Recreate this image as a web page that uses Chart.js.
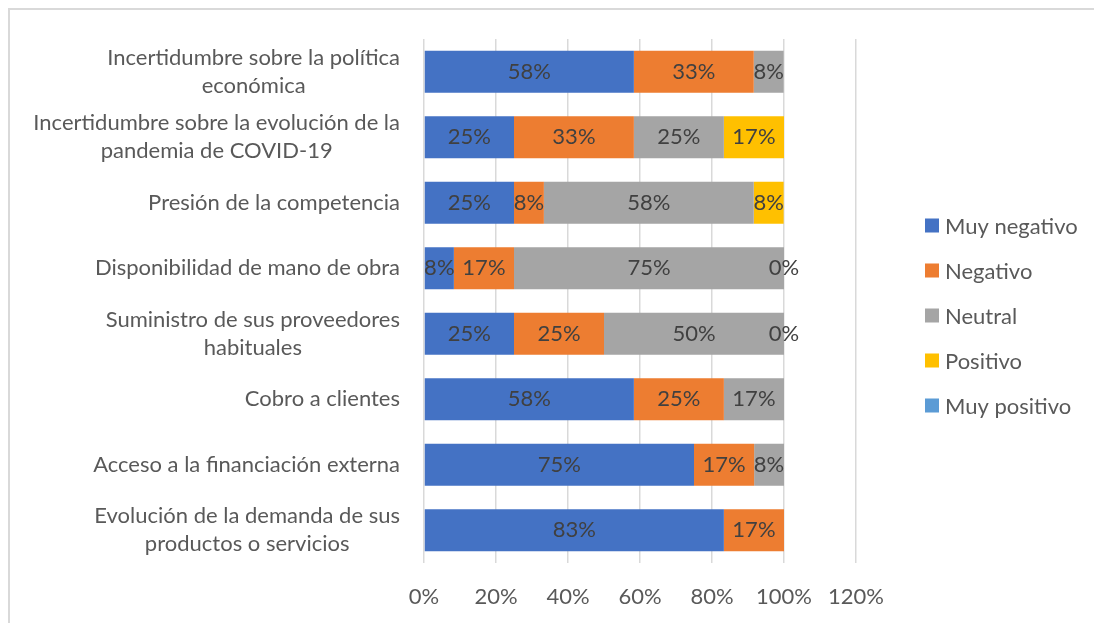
<!DOCTYPE html>
<html>
<head>
<meta charset="utf-8">
<script src="https://cdn.jsdelivr.net/npm/chart.js@4.4.1/dist/chart.umd.min.js"></script>
<style>
  html, body { margin: 0; padding: 0; background: #fff; }
  #frame { position: absolute; left: 8px; top: 8px; width: 1086px; height: 615px; box-sizing: border-box;
           border-top: 2px solid #d9d9d9; border-left: 2px solid #d9d9d9; }
  #wrap { position: absolute; left: 0; top: 0; width: 1094px; height: 623px; }
</style>
</head>
<body>
<div id="frame"></div>
<div id="wrap"><canvas id="chart"></canvas></div>
<script>
// categorías (de arriba a abajo)
const categories = [
    ["Incertidumbre sobre la política", "económica"],
    ["Incertidumbre sobre la evolución de la", "pandemia de COVID-19"],
    "Presión de la competencia",
    "Disponibilidad de mano de obra",
    ["Suministro de sus proveedores", "habituales"],
    "Cobro a clientes",
    "Acceso a la financiación externa",
    ["Evolución de la demanda de sus", "productos o servicios"]
];

const seriesNames = ["Muy negativo", "Negativo", "Neutral", "Positivo", "Muy positivo"];
const seriesColors = ["#4472C4", "#ED7D31", "#A5A5A5", "#FFC000", "#5B9BD5"];

// valores en %
const muyNegativo = [58.3, 25, 25, 8.3, 25, 58.3, 75, 83.3];
const negativo    = [33.3, 33.3, 8.3, 16.7, 25, 25, 16.7, 16.7];
const neutral     = [8.3, 25, 58.3, 75, 50, 16.7, 8.3, null];
const positivo    = [null, 16.7, 8.3, 0, 0, null, null, null];
const muyPositivo = [null, null, null, null, null, null, null, null];

const xTicks = [0, 20, 40, 60, 80, 100, 120];

const FONT = "Lato, 'Liberation Sans', sans-serif";
const FONT_SIZE = 22;

const drawPlugin = {
    id: "drawLabels",
    afterDatasetsDraw(chart) {
        const ctx = chart.ctx;
        ctx.save();
        ctx.font = FONT_SIZE + "px " + FONT;
        ctx.textAlign = "center";
        ctx.textBaseline = "middle";

        // etiquetas de datos
        ctx.fillStyle = "#404040";
        chart.data.datasets.forEach((ds, i) => {
            const meta = chart.getDatasetMeta(i);
            meta.data.forEach((bar, j) => {
                const v = ds.data[j];
                if (v === null || v === undefined) return;
                ctx.fillText(Math.round(v) + "%", (bar.x + bar.base) / 2, bar.y);
            });
        });

        // etiquetas de categorías
        const yScale = chart.scales.y;
        const lineH = 28;
        ctx.fillStyle = "#595959";
        categories.forEach((lab, i) => {
            const lines = Array.isArray(lab) ? lab : [lab];
            const widest = Math.max(...lines.map(l => ctx.measureText(l).width));
            const cx = chart.chartArea.left - 24 - widest / 2;
            const cy = yScale.getPixelForValue(i);
            lines.forEach((l, k) => ctx.fillText(l, cx, cy + (k - (lines.length - 1) / 2) * lineH));
        });

        // leyenda
        const lx = chart.chartArea.right + 69;
        const step = 45;
        const n = chart.data.datasets.length;
        const top = (chart.height + 8) / 2 - (n - 1) * step / 2;
        ctx.textAlign = "left";
        chart.data.datasets.forEach((ds, i) => {
            const y = top + i * step;
            ctx.fillStyle = ds.backgroundColor;
            ctx.fillRect(lx, y - 7, 14, 14);
            ctx.fillStyle = "#595959";
            ctx.fillText(ds.label, lx + 20, y + 1);
        });
        ctx.restore();
    }
};

const seriesData = [muyNegativo, negativo, neutral, positivo, muyPositivo];

new Chart(document.getElementById("chart"), {
    type: "bar",
    data: {
        labels: categories,
        datasets: seriesNames.map((name, i) => ({
            label: name,
            data: seriesData[i],
            backgroundColor: seriesColors[i],
            borderWidth: 0,
            categoryPercentage: 0.64,
            barPercentage: 1
        }))
    },
    options: {
        indexAxis: "y",
        responsive: true,
        maintainAspectRatio: false,
        animation: false,
        layout: { padding: { top: 39, right: 238, bottom: 0, left: 0 } },
        plugins: {
            legend: { display: false },
            tooltip: { enabled: false }
        },
        scales: {
            x: {
                stacked: true,
                min: 0,
                max: 120,
                afterBuildTicks: s => { s.ticks = xTicks.map(v => ({ value: v })); },
                afterFit: s => { s.height = 60; },
                grid: { color: "#d9d9d9", lineWidth: 1.5, drawTicks: false },
                border: { display: false },
                ticks: {
                    padding: 21,
                    color: "#595959",
                    font: { family: FONT, size: FONT_SIZE },
                    callback: v => v + "%"
                }
            },
            y: {
                stacked: true,
                afterFit: s => { s.width = 424; },
                grid: { display: false },
                border: { display: false },
                ticks: { display: false }
            }
        }
    },
    plugins: [drawPlugin]
});
</script>
</body>
</html>
